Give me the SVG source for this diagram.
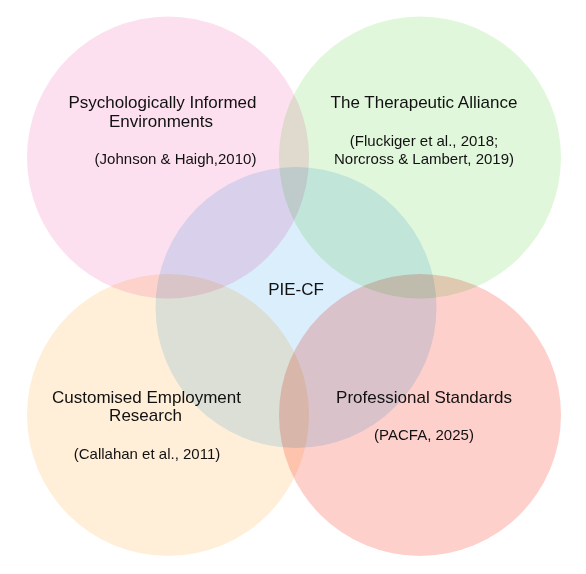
<svg xmlns="http://www.w3.org/2000/svg" width="586" height="574" viewBox="0 0 586 574">
<style>
.c{mix-blend-mode:multiply}
.t{font-family:"Liberation Sans",Arial,sans-serif;font-size:17px;fill:#111;text-anchor:middle}
.s{font-family:"Liberation Sans",Arial,sans-serif;font-size:15px;fill:#111;text-anchor:middle}
</style>
<rect width="586" height="574" fill="#ffffff"/>
<g id="circles" style="isolation:isolate">
<g id="pie"><circle class="c" cx="168" cy="157.5" r="141" fill="#fde0ef"/></g>
<g id="alliance"><circle class="c" cx="420" cy="157.5" r="141" fill="#e1f7dc"/></g>
<g id="piecf"><circle class="c" cx="296" cy="307.5" r="140.5" fill="#dbeefc"/></g>
<g id="employment"><circle class="c" cx="168" cy="415" r="141" fill="#ffefd8"/></g>
<g id="standards"><circle class="c" cx="420" cy="415" r="141" fill="#fdd0cc"/></g>
</g>
<g id="labels">
<text class="t" x="162.5" y="108">Psychologically Informed</text>
<text class="t" x="161" y="127">Environments</text>
<text class="s" x="175.5" y="164">(Johnson &amp; Haigh,2010)</text>
<text class="t" x="424" y="108">The Therapeutic Alliance</text>
<text class="s" x="424" y="146">(Fluckiger et al., 2018;</text>
<text class="s" x="424" y="164">Norcross &amp; Lambert, 2019)</text>
<text class="t" x="296" y="295">PIE-CF</text>
<text class="t" x="146.5" y="403">Customised Employment</text>
<text class="t" x="145.5" y="421">Research</text>
<text class="s" x="147" y="459">(Callahan et al., 2011)</text>
<text class="t" x="424" y="403">Professional Standards</text>
<text class="s" x="424" y="440">(PACFA, 2025)</text>
</g>
</svg>
